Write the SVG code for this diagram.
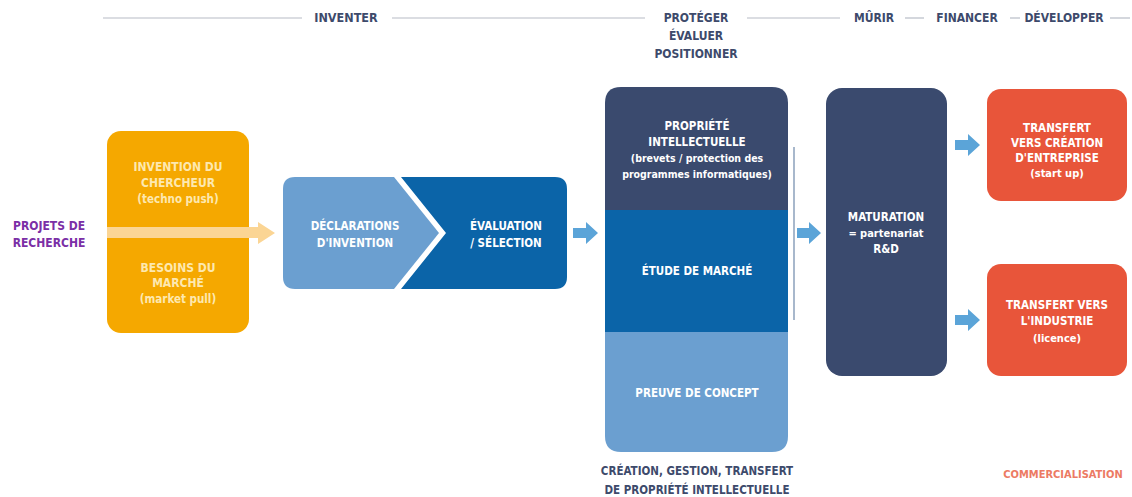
<svg xmlns="http://www.w3.org/2000/svg" width="1132" height="497" viewBox="0 0 1132 497">
<style>
text{font-family:"DejaVu Sans Condensed","DejaVu Sans",sans-serif;font-weight:bold;text-anchor:middle}
.hd{font-size:12px;fill:#3d4a6b}
.hl{stroke:#b8bcc6;stroke-width:1.2}
.w{font-size:11.5px;fill:#ffffff}
.ws{font-size:11px;fill:#ffffff}
.wc{font-size:10.5px;fill:#ffffff}
.o{font-size:12px;fill:#fde8b0}
.os{font-size:11.5px;fill:#fde8b0}
.ar{fill:#5ba4d8}
</style>
<rect width="1132" height="497" fill="#ffffff"/>
<g id="header">
<line class="hl" x1="103" y1="18" x2="302" y2="18"/>
<text class="hd" x="346" y="22" style="font-size:12.5px">INVENTER</text>
<line class="hl" x1="392" y1="18" x2="645" y2="18"/>
<text class="hd" x="696" y="22">PROTÉGER</text>
<text class="hd" x="696" y="40">ÉVALUER</text>
<text class="hd" x="696" y="58">POSITIONNER</text>
<line class="hl" x1="747" y1="18" x2="840" y2="18"/>
<text class="hd" x="874" y="22">MÛRIR</text>
<line class="hl" x1="905" y1="18" x2="924" y2="18"/>
<text class="hd" x="967" y="22">FINANCER</text>
<line class="hl" x1="1010" y1="18" x2="1020" y2="18"/>
<text class="hd" x="1064" y="22">DÉVELOPPER</text>
<line class="hl" x1="1110" y1="18" x2="1130" y2="18"/>
</g>
<g id="projets">
<text x="49" y="230" style="font-size:12px;fill:#7b2fa6">PROJETS DE</text>
<text x="49" y="247" style="font-size:12px;fill:#7b2fa6">RECHERCHE</text>
</g>
<g id="invention">
<rect x="107" y="131" width="142" height="202" rx="14" fill="#f5a800"/>
<text class="o" x="178" y="171">INVENTION DU</text>
<text class="o" x="178" y="187">CHERCHEUR</text>
<text class="os" x="178" y="203">(techno push)</text>
<text class="o" x="178" y="272">BESOINS DU</text>
<text class="o" x="178" y="287">MARCHÉ</text>
<text class="os" x="178" y="303">(market pull)</text>
</g>
<g id="declarations">
<path d="M295 177 H394 L439 233 L394 289 H295 Q283 289 283 277 V189 Q283 177 295 177 Z" fill="#6b9fd0"/>
<text class="w" x="355" y="230">DÉCLARATIONS</text>
<text class="w" x="355" y="247">D'INVENTION</text>
</g>
<g id="evaluation">
<path d="M401 177 H555 Q567 177 567 189 V277 Q567 289 555 289 H401 L446 233 Z" fill="#0b64a8"/>
<text class="w" x="506" y="230">ÉVALUATION</text>
<text class="w" x="506" y="247">/ SÉLECTION</text>
</g>
<g id="protection">
<path d="M621 87 H772 Q788 87 788 103 V210 H605 V103 Q605 87 621 87 Z" fill="#3a4a6e"/>
<rect x="605" y="210" width="183" height="122" fill="#0b64a8"/>
<path d="M605 332 H788 V436 Q788 452 772 452 H621 Q605 452 605 436 Z" fill="#6b9fd0"/>
<text class="w" x="697" y="130">PROPRIÉTÉ</text>
<text class="w" x="697" y="146">INTELLECTUELLE</text>
<text class="wc" x="697" y="162">(brevets / protection des</text>
<text class="wc" x="697" y="178">programmes informatiques)</text>
<text class="w" x="697" y="275">ÉTUDE DE MARCHÉ</text>
<text class="w" x="697" y="397">PREUVE DE CONCEPT</text>
<text class="hd" x="697" y="475" style="font-size:11.5px">CRÉATION, GESTION, TRANSFERT</text>
<text class="hd" x="697" y="494" style="font-size:11.5px">DE PROPRIÉTÉ INTELLECTUELLE</text>
</g>
<g id="maturation">
<rect x="826" y="88" width="121" height="288" rx="16" fill="#3a4a6e"/>
<text class="w" x="886" y="221">MATURATION</text>
<text class="ws" x="886" y="237">= partenariat</text>
<text class="w" x="886" y="253">R&amp;D</text>
</g>
<g id="startup">
<rect x="987" y="89" width="140" height="112" rx="14" fill="#e8553a"/>
<text class="w" x="1057" y="132">TRANSFERT</text>
<text class="w" x="1057" y="147">VERS CRÉATION</text>
<text class="w" x="1057" y="162">D'ENTREPRISE</text>
<text class="ws" x="1057" y="177">(start up)</text>
</g>
<g id="industrie">
<rect x="987" y="264" width="140" height="112" rx="14" fill="#e8553a"/>
<text class="w" x="1057" y="309">TRANSFERT VERS</text>
<text class="w" x="1057" y="325">L'INDUSTRIE</text>
<text class="ws" x="1057" y="342">(licence)</text>
</g>
<g id="commercialisation">
<text x="1063" y="478" style="font-size:11px;fill:#ec7a63">COMMERCIALISATION</text>
</g>
<g id="connectors">
<path d="M107 227 H258 V222 L275 233 L258 244 V238 H107 Z" fill="#fbd594"/>
<path class="ar" d="M573 228 H586 V222 L598 233 L586 244 V238 H573 Z"/>
<line x1="794" y1="147" x2="794" y2="320" stroke="#a8b8cc" stroke-width="2"/>
<path class="ar" d="M797 228 H809 V222 L821 233 L809 244 V238 H797 Z"/>
<path class="ar" d="M955 140 H968 V134 L980 145 L968 156 V150 H955 Z"/>
<path class="ar" d="M955 315 H968 V309 L980 320 L968 331 V325 H955 Z"/>
</g>
</svg>
